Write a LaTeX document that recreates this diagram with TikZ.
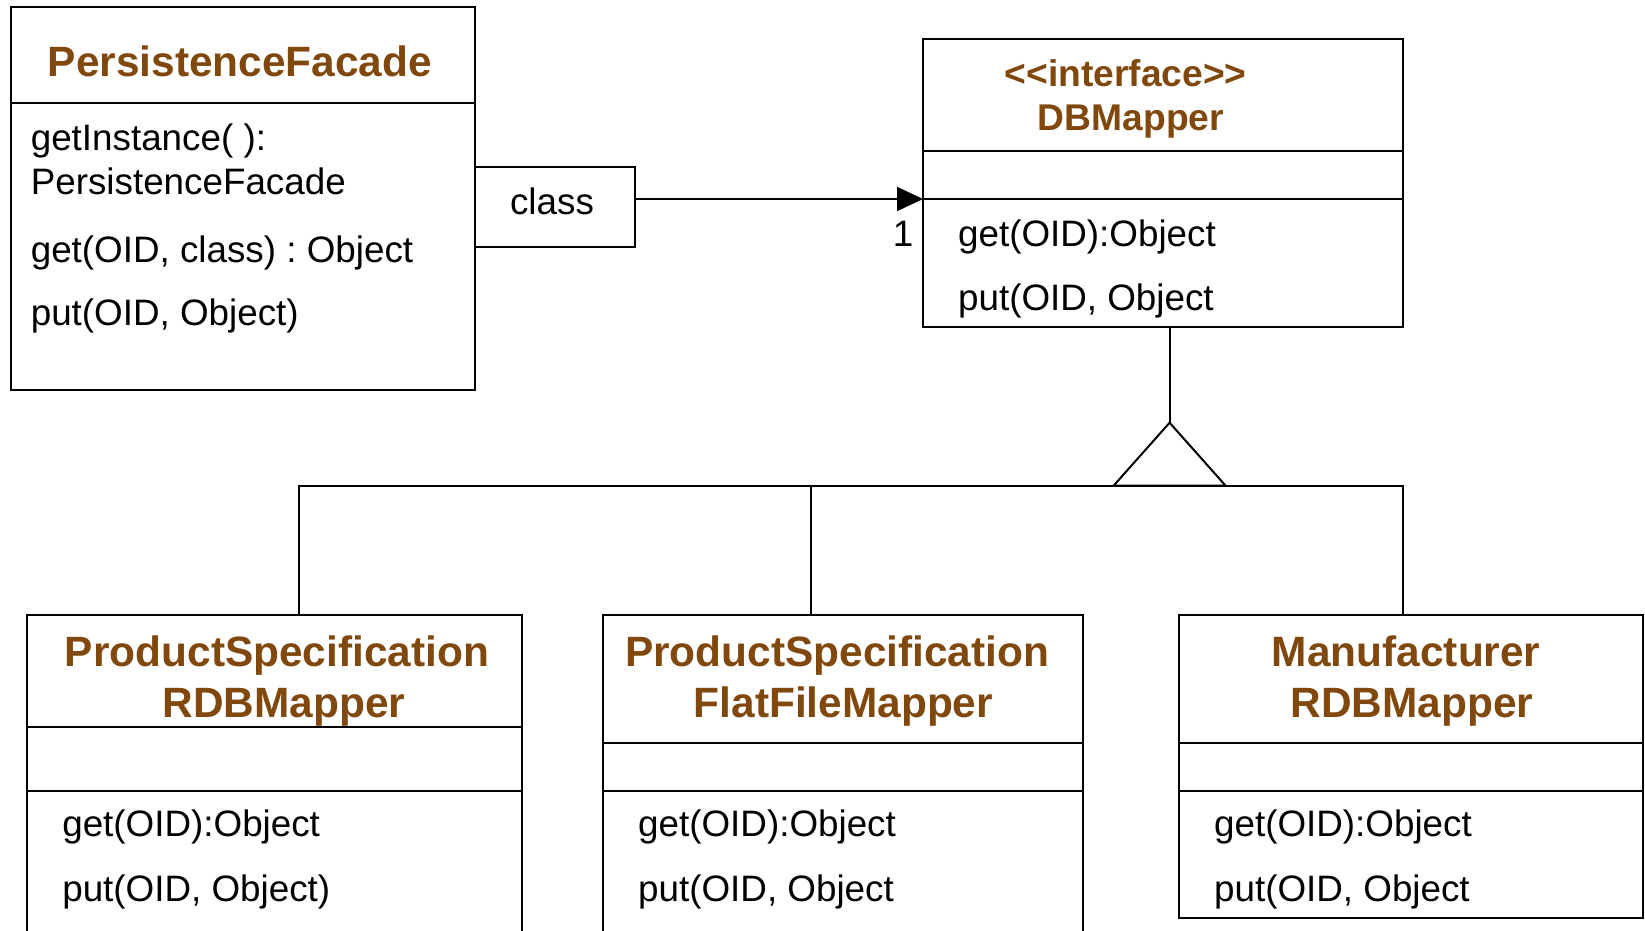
\documentclass[tikz,border=0pt]{standalone}
\usepackage{fontspec}
\setmainfont{Liberation Sans}
\usetikzlibrary{arrows.meta}
\definecolor{mybrown}{RGB}{128,72,12}
\frenchspacing
\tikzset{
	>=latex,
	class box/.style={draw,line width=1pt,rectangle,anchor=north west,inner sep=0,outer sep=0},
	class title/.style={mybrown,font=\fontsize{21.2}{25}\selectfont\bfseries,anchor=base,inner sep=0},
	iface title/.style={class title,font=\fontsize{18.6}{22}\selectfont\bfseries},
	class op/.style={font=\fontsize{18.4}{22}\selectfont,anchor=base west,inner sep=0},
	connect/.style={line width=1pt,black},
	connect arrow/.style={connect,-{Triangle[length=13pt,width=12pt]}}
}

\begin{document}
\begin{tikzpicture}[x=0.5pt,y=-0.5pt]
  \useasboundingbox (0,0) rectangle (1645,931);
  \clip (0,0) rectangle (1645,931);

  % FACADE
  \node[class box,minimum width=232.35pt,minimum height=191.45pt] (pf) at (10.5,7.3) {};
  \node[class title] (pf-t) at (240,76.5) {PersistenceFacade};
  \node[class op] (pf-o1) at (30.4,150.8) {getInstance( ):};
  \node[class op] (pf-o2) at (30.4,194.2) {PersistenceFacade};
  \node[class op] (pf-o3) at (30.4,262.5) {get(OID, class) : Object};
  \node[class op] (pf-o4) at (30.4,325.7) {put(OID, Object)};
  \node[class box,minimum width=79.7pt,minimum height=40pt] (qual) at (475.2,166.7) {};
  \node[class op,anchor=base] (qual-t) at (552,214) {class};

  % INTERFACE
  \node[class box,minimum width=239.75pt,minimum height=143.85pt] (dbm) at (923,39) {};
  \node[iface title] (dbm-t1) at (1125.6,86.3) {<{}<interface>{}>};
  \node[iface title] (dbm-t2) at (1130.9,130.8) {DBMapper};
  \node[class op] (dbm-o1) at (957.7,246.5) {get(OID):Object};
  \node[class op] (dbm-o2) at (957.7,310.5) {put(OID, Object};

  % MAPPERS
  \node[class box,minimum width=247.55pt,minimum height=162.5pt] (m1) at (27.3,615) {};
  \node[class title] (m1-t1) at (277,666.7) {ProductSpecification};
  \node[class title] (m1-t2) at (283.8,717.3) {RDBMapper};
  \node[class box,minimum width=239.7pt,minimum height=162.5pt] (m2) at (603.2,615) {};
  \node[class title] (m2-t1) at (837.1,666.7) {ProductSpecification};
  \node[class title] (m2-t2) at (843.4,717.3) {FlatFileMapper};
  \node[class box,minimum width=231.8pt,minimum height=151.65pt] (m3) at (1179.1,615) {};
  \node[class title] (m3-t1) at (1406.2,666.7) {Manufacturer};
  \node[class title] (m3-t2) at (1412,717.3) {RDBMapper};
  \foreach \cls/\x in {m1/61.9,m2/637.8,m3/1213.7}{
    \node[class op] (\cls-o1) at (\x,836.7) {get(OID):Object};
  }
  \node[class op] (m1-o2) at (61.9,901.7) {put(OID, Object)};
  \node[class op] (m2-o2) at (637.8,901.7) {put(OID, Object};
  \node[class op] (m3-o2) at (1213.7,901.7) {put(OID, Object};

  % COMPARTMENT LINES
  \foreach \cls/\y in {pf/102.7,dbm/150.7,dbm/199,m1/726.7,m1/791,m2/743.3,m2/791,m3/743.3,m3/791}{
    \draw[connect] (\cls.west |- 0,\y) -- (\cls.east |- 0,\y);
  }

  % ASSOCIATION
  \draw[connect arrow] (qual.east |- 0,199) -- (dbm.west |- 0,199);
  \node[class op,anchor=base] (mult) at (903.2,246.5) {1};

  % REALIZATION
  \coordinate (apex) at (1169.6,422.7);
  \coordinate (bus) at (0,485.7);
  \draw[connect] (apex |- dbm.south) -- (apex);
  \draw[connect] (apex) -- ++(-56,63) -- ++(112,0) -- cycle;
  \draw[connect] ([xshift=12pt]m1.north) |- (bus -| dbm.east) -- (m3.north -| dbm.east);
  \draw[connect] ([xshift=-16pt]m2.north) -- ([xshift=-16pt]m2.north |- bus);

\end{tikzpicture}
\end{document}
